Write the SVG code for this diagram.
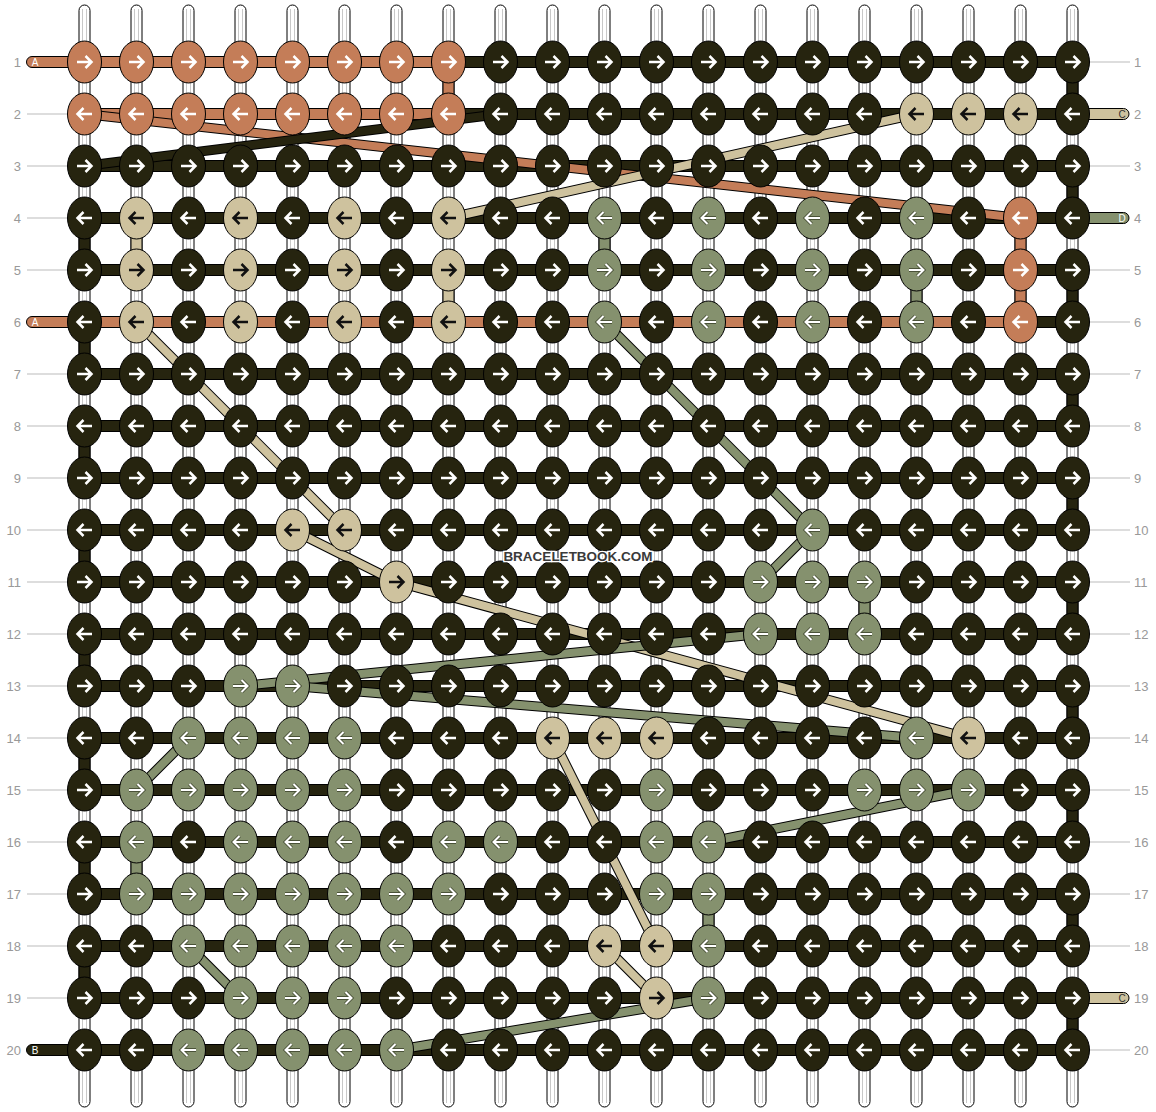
<svg xmlns="http://www.w3.org/2000/svg" width="1156" height="1112" viewBox="0 0 1156 1112">
<style>
text{font-family:"Liberation Sans",Arial,sans-serif}
.num{font-size:13px;fill:#999}
.tk{stroke:#bbb;stroke-width:1}
.bar{stroke:#000;stroke-width:1}
.o{fill:#c47d58}.t{fill:#cec29e}.g{fill:#85916e}.d{fill:#26240f}
.lb{stroke:#000;stroke-width:10}
.lo{stroke:#c47d58;stroke-width:8}
.lt{stroke:#cec29e;stroke-width:8}
.lg{stroke:#85916e;stroke-width:8}
.ld{stroke:#26240f;stroke-width:8}
.tag{font-size:10px;text-anchor:middle}
.wm{font-size:13.5px;font-weight:bold;fill:#3a3a3a;stroke:#fff;stroke-width:2.5;paint-order:stroke;text-anchor:middle}
</style>
<defs>
<g id="vs"><rect x="-5.5" y="5" width="11" height="1102" rx="5.5" fill="#fff" stroke="#000"/><path d="M-2,9V1103M2,9V1103" stroke="#c8c8c8"/></g>
<path id="a" d="M-7.5,0H6M1,-6L7,0L1,6" fill="none"/>
<g id="OR"><ellipse rx="17" ry="21" fill="#c47d58" stroke="#000"/><use href="#a" stroke="#fff" stroke-width="2.5"/></g>
<g id="OL"><ellipse rx="17" ry="21" fill="#c47d58" stroke="#000"/><use href="#a" stroke="#fff" stroke-width="2.5" transform="scale(-1 1)"/></g>
<g id="DR"><ellipse rx="17" ry="21" fill="#26240f" stroke="#000"/><use href="#a" stroke="#fff" stroke-width="2.5"/></g>
<g id="DL"><ellipse rx="17" ry="21" fill="#26240f" stroke="#000"/><use href="#a" stroke="#fff" stroke-width="2.5" transform="scale(-1 1)"/></g>
<g id="TR"><ellipse rx="17" ry="21" fill="#cec29e" stroke="#000"/><use href="#a" stroke="#111" stroke-width="2.5"/></g>
<g id="TL"><ellipse rx="17" ry="21" fill="#cec29e" stroke="#000"/><use href="#a" stroke="#111" stroke-width="2.5" transform="scale(-1 1)"/></g>
<g id="GR"><ellipse rx="17" ry="21" fill="#85916e" stroke="#000"/><use href="#a" stroke="#4a5238" stroke-width="3.8"/><use href="#a" stroke="#fff" stroke-width="2"/></g>
<g id="GL"><ellipse rx="17" ry="21" fill="#85916e" stroke="#000"/><g transform="scale(-1 1)"><use href="#a" stroke="#4a5238" stroke-width="3.8"/><use href="#a" stroke="#fff" stroke-width="2"/></g></g>
</defs>
<rect width="1156" height="1112" fill="#fff"/>
<g id="labels">
<g class="tk">
<path d="M27,114H67M27,166H67M27,218H67M27,270H67M27,374H67M27,426H67M27,478H67M27,530H67M27,582H67M27,634H67M27,686H67M27,738H67M27,790H67M27,842H67M27,894H67M27,946H67M27,998H67"/>
<path d="M1090,62H1130M1090,166H1130M1090,270H1130M1090,322H1130M1090,374H1130M1090,426H1130M1090,478H1130M1090,530H1130M1090,582H1130M1090,634H1130M1090,686H1130M1090,738H1130M1090,790H1130M1090,842H1130M1090,894H1130M1090,946H1130M1090,1050H1130"/>
</g>
<g class="num" text-anchor="end">
<text x="21" y="66.5">1</text><text x="21" y="118.5">2</text><text x="21" y="170.5">3</text><text x="21" y="222.5">4</text><text x="21" y="274.5">5</text><text x="21" y="326.5">6</text><text x="21" y="378.5">7</text><text x="21" y="430.5">8</text><text x="21" y="482.5">9</text><text x="21" y="534.5">10</text><text x="21" y="586.5">11</text><text x="21" y="638.5">12</text><text x="21" y="690.5">13</text><text x="21" y="742.5">14</text><text x="21" y="794.5">15</text><text x="21" y="846.5">16</text><text x="21" y="898.5">17</text><text x="21" y="950.5">18</text><text x="21" y="1002.5">19</text><text x="21" y="1054.5">20</text>
</g>
<g class="num">
<text x="1134" y="66.5">1</text><text x="1134" y="118.5">2</text><text x="1134" y="170.5">3</text><text x="1134" y="222.5">4</text><text x="1134" y="274.5">5</text><text x="1134" y="326.5">6</text><text x="1134" y="378.5">7</text><text x="1134" y="430.5">8</text><text x="1134" y="482.5">9</text><text x="1134" y="534.5">10</text><text x="1134" y="586.5">11</text><text x="1134" y="638.5">12</text><text x="1134" y="690.5">13</text><text x="1134" y="742.5">14</text><text x="1134" y="794.5">15</text><text x="1134" y="846.5">16</text><text x="1134" y="898.5">17</text><text x="1134" y="950.5">18</text><text x="1134" y="1002.5">19</text><text x="1134" y="1054.5">20</text>
</g>
</g>
<g id="grid" transform="translate(-0.5 0)">
<g id="strings">
<use href="#vs" x="85"/><use href="#vs" x="137"/><use href="#vs" x="189"/><use href="#vs" x="241"/><use href="#vs" x="293"/><use href="#vs" x="345"/><use href="#vs" x="397"/><use href="#vs" x="449"/><use href="#vs" x="501"/><use href="#vs" x="553"/><use href="#vs" x="605"/><use href="#vs" x="657"/><use href="#vs" x="709"/><use href="#vs" x="761"/><use href="#vs" x="813"/><use href="#vs" x="865"/><use href="#vs" x="917"/><use href="#vs" x="969"/><use href="#vs" x="1021"/><use href="#vs" x="1073"/>
</g>
<g id="connectors">
<g id="links" class="bar">
<rect class="o" x="443.5" y="77" width="11" height="22"/>
<rect class="d" x="1067.5" y="77" width="11" height="22"/>
<rect class="d" x="1067.5" y="181" width="11" height="22"/>
<rect class="d" x="79.5" y="233" width="11" height="22"/>
<rect class="t" x="131.5" y="233" width="11" height="22"/>
<rect class="g" x="599.5" y="233" width="11" height="22"/>
<rect class="o" x="1015.5" y="233" width="11" height="22"/>
<rect class="t" x="443.5" y="285" width="11" height="22"/>
<rect class="g" x="911.5" y="285" width="11" height="22"/>
<rect class="o" x="1015.5" y="285" width="11" height="22"/>
<rect class="d" x="1067.5" y="285" width="11" height="22"/>
<rect class="d" x="79.5" y="337" width="11" height="22"/>
<rect class="d" x="1067.5" y="389" width="11" height="22"/>
<rect class="d" x="79.5" y="441" width="11" height="22"/>
<rect class="d" x="1067.5" y="493" width="11" height="22"/>
<rect class="d" x="79.5" y="545" width="11" height="22"/>
<rect class="g" x="859.5" y="597" width="11" height="22"/>
<rect class="d" x="1067.5" y="597" width="11" height="22"/>
<rect class="d" x="79.5" y="649" width="11" height="22"/>
<rect class="d" x="1067.5" y="701" width="11" height="22"/>
<rect class="d" x="79.5" y="753" width="11" height="22"/>
<rect class="d" x="1067.5" y="805" width="11" height="22"/>
<rect class="d" x="79.5" y="857" width="11" height="22"/>
<rect class="g" x="131.5" y="857" width="11" height="22"/>
<rect class="g" x="703.5" y="909" width="11" height="22"/>
<rect class="d" x="1067.5" y="909" width="11" height="22"/>
<rect class="d" x="79.5" y="961" width="11" height="22"/>
<rect class="d" x="1067.5" y="1013" width="11" height="22"/>
</g>
<g id="rows" class="bar">
<path class="o" d="M85,56.5H32.5A5.5,5.5 0 0 0 32.5,67.5H85Z"/>
<rect class="o" x="85" y="56.5" width="364" height="11"/><rect class="d" x="449" y="56.5" width="624" height="11"/>
<rect class="o" x="85" y="108.5" width="364" height="11"/><rect class="d" x="449" y="108.5" width="624" height="11"/>
<path class="t" d="M1073,108.5H1124A5.5,5.5 0 0 1 1124,119.5H1073Z"/>
<rect class="d" x="85" y="160.5" width="988" height="11"/>
<rect class="d" x="85" y="212.5" width="988" height="11"/>
<path class="g" d="M1073,212.5H1124A5.5,5.5 0 0 1 1124,223.5H1073Z"/>
<rect class="d" x="85" y="264.5" width="988" height="11"/>
<path class="o" d="M85,316.5H32.5A5.5,5.5 0 0 0 32.5,327.5H85Z"/>
<rect class="o" x="85" y="316.5" width="936" height="11"/><rect class="d" x="1021" y="316.5" width="52" height="11"/>
<rect class="d" x="85" y="368.5" width="988" height="11"/>
<rect class="d" x="85" y="420.5" width="988" height="11"/>
<rect class="d" x="85" y="472.5" width="988" height="11"/>
<rect class="d" x="85" y="524.5" width="988" height="11"/>
<rect class="d" x="85" y="576.5" width="988" height="11"/>
<rect class="d" x="85" y="628.5" width="988" height="11"/>
<rect class="d" x="85" y="680.5" width="988" height="11"/>
<rect class="d" x="85" y="732.5" width="988" height="11"/>
<rect class="d" x="85" y="784.5" width="988" height="11"/>
<rect class="d" x="85" y="836.5" width="988" height="11"/>
<rect class="d" x="85" y="888.5" width="988" height="11"/>
<rect class="d" x="85" y="940.5" width="988" height="11"/>
<rect class="d" x="85" y="992.5" width="988" height="11"/>
<path class="t" d="M1073,992.5H1124A5.5,5.5 0 0 1 1124,1003.5H1073Z"/>
<rect class="d" x="85" y="1044.5" width="988" height="11"/>
<path class="d" d="M85,1044.5H32.5A5.5,5.5 0 0 0 32.5,1055.5H85Z"/>
</g>
<g id="diagonals">
<line class="lb" x1="85" y1="114" x2="1021" y2="218"/><line class="lo" x1="85" y1="114" x2="1021" y2="218"/>
<line class="lb" x1="85" y1="166" x2="501" y2="114"/><line class="ld" x1="85" y1="166" x2="501" y2="114"/>
<line class="lb" x1="449" y1="218" x2="917" y2="114"/><line class="lt" x1="449" y1="218" x2="917" y2="114"/>
<line class="lb" x1="137" y1="322" x2="345" y2="530"/><line class="lt" x1="137" y1="322" x2="345" y2="530"/>
<line class="lb" x1="293" y1="530" x2="397" y2="582"/><line class="lt" x1="293" y1="530" x2="397" y2="582"/>
<line class="lb" x1="397" y1="582" x2="969" y2="738"/><line class="lt" x1="397" y1="582" x2="969" y2="738"/>
<line class="lb" x1="553" y1="738" x2="657" y2="946"/><line class="lt" x1="553" y1="738" x2="657" y2="946"/>
<line class="lb" x1="605" y1="946" x2="657" y2="998"/><line class="lt" x1="605" y1="946" x2="657" y2="998"/>
<line class="lb" x1="605" y1="322" x2="813" y2="530"/><line class="lg" x1="605" y1="322" x2="813" y2="530"/>
<line class="lb" x1="813" y1="530" x2="761" y2="582"/><line class="lg" x1="813" y1="530" x2="761" y2="582"/>
<line class="lb" x1="241" y1="686" x2="761" y2="634"/><line class="lg" x1="241" y1="686" x2="761" y2="634"/>
<line class="lb" x1="293" y1="686" x2="917" y2="738"/><line class="lg" x1="293" y1="686" x2="917" y2="738"/>
<line class="lb" x1="189" y1="738" x2="137" y2="790"/><line class="lg" x1="189" y1="738" x2="137" y2="790"/>
<line class="lb" x1="709" y1="842" x2="969" y2="790"/><line class="lg" x1="709" y1="842" x2="969" y2="790"/>
<line class="lb" x1="189" y1="946" x2="241" y2="998"/><line class="lg" x1="189" y1="946" x2="241" y2="998"/>
<line class="lb" x1="397" y1="1050" x2="709" y2="998"/><line class="lg" x1="397" y1="1050" x2="709" y2="998"/>
</g>
<g id="tags" class="tag">
<text x="35.5" y="65.5" fill="#fff">A</text>
<text x="35.5" y="325.5" fill="#fff">A</text>
<text x="35.5" y="1053.5" fill="#fff">B</text>
<text x="1122.5" y="117.5" fill="#333">C</text>
<text x="1122.5" y="221.5" fill="#fff">D</text>
<text x="1122.5" y="1001.5" fill="#333">C</text>
</g>
</g>
<g id="knots">
<g id="row1" transform="translate(0 62)">
<g id="k1-1"><use href="#OR" x="85"/></g><g id="k1-2"><use href="#OR" x="137"/></g><g id="k1-3"><use href="#OR" x="189"/></g><g id="k1-4"><use href="#OR" x="241"/></g><g id="k1-5"><use href="#OR" x="293"/></g><g id="k1-6"><use href="#OR" x="345"/></g><g id="k1-7"><use href="#OR" x="397"/></g><g id="k1-8"><use href="#OR" x="449"/></g><g id="k1-9"><use href="#DR" x="501"/></g><g id="k1-10"><use href="#DR" x="553"/></g><g id="k1-11"><use href="#DR" x="605"/></g><g id="k1-12"><use href="#DR" x="657"/></g><g id="k1-13"><use href="#DR" x="709"/></g><g id="k1-14"><use href="#DR" x="761"/></g><g id="k1-15"><use href="#DR" x="813"/></g><g id="k1-16"><use href="#DR" x="865"/></g><g id="k1-17"><use href="#DR" x="917"/></g><g id="k1-18"><use href="#DR" x="969"/></g><g id="k1-19"><use href="#DR" x="1021"/></g><g id="k1-20"><use href="#DR" x="1073"/></g>
</g>
<g id="row2" transform="translate(0 114)">
<g id="k2-1"><use href="#OL" x="85"/></g><g id="k2-2"><use href="#OL" x="137"/></g><g id="k2-3"><use href="#OL" x="189"/></g><g id="k2-4"><use href="#OL" x="241"/></g><g id="k2-5"><use href="#OL" x="293"/></g><g id="k2-6"><use href="#OL" x="345"/></g><g id="k2-7"><use href="#OL" x="397"/></g><g id="k2-8"><use href="#OL" x="449"/></g><g id="k2-9"><use href="#DL" x="501"/></g><g id="k2-10"><use href="#DL" x="553"/></g><g id="k2-11"><use href="#DL" x="605"/></g><g id="k2-12"><use href="#DL" x="657"/></g><g id="k2-13"><use href="#DL" x="709"/></g><g id="k2-14"><use href="#DL" x="761"/></g><g id="k2-15"><use href="#DL" x="813"/></g><g id="k2-16"><use href="#DL" x="865"/></g><g id="k2-17"><use href="#TL" x="917"/></g><g id="k2-18"><use href="#TL" x="969"/></g><g id="k2-19"><use href="#TL" x="1021"/></g><g id="k2-20"><use href="#DL" x="1073"/></g>
</g>
<g id="row3" transform="translate(0 166)">
<g id="k3-1"><use href="#DR" x="85"/></g><g id="k3-2"><use href="#DR" x="137"/></g><g id="k3-3"><use href="#DR" x="189"/></g><g id="k3-4"><use href="#DR" x="241"/></g><g id="k3-5"><use href="#DR" x="293"/></g><g id="k3-6"><use href="#DR" x="345"/></g><g id="k3-7"><use href="#DR" x="397"/></g><g id="k3-8"><use href="#DR" x="449"/></g><g id="k3-9"><use href="#DR" x="501"/></g><g id="k3-10"><use href="#DR" x="553"/></g><g id="k3-11"><use href="#DR" x="605"/></g><g id="k3-12"><use href="#DR" x="657"/></g><g id="k3-13"><use href="#DR" x="709"/></g><g id="k3-14"><use href="#DR" x="761"/></g><g id="k3-15"><use href="#DR" x="813"/></g><g id="k3-16"><use href="#DR" x="865"/></g><g id="k3-17"><use href="#DR" x="917"/></g><g id="k3-18"><use href="#DR" x="969"/></g><g id="k3-19"><use href="#DR" x="1021"/></g><g id="k3-20"><use href="#DR" x="1073"/></g>
</g>
<g id="row4" transform="translate(0 218)">
<g id="k4-1"><use href="#DL" x="85"/></g><g id="k4-2"><use href="#TL" x="137"/></g><g id="k4-3"><use href="#DL" x="189"/></g><g id="k4-4"><use href="#TL" x="241"/></g><g id="k4-5"><use href="#DL" x="293"/></g><g id="k4-6"><use href="#TL" x="345"/></g><g id="k4-7"><use href="#DL" x="397"/></g><g id="k4-8"><use href="#TL" x="449"/></g><g id="k4-9"><use href="#DL" x="501"/></g><g id="k4-10"><use href="#DL" x="553"/></g><g id="k4-11"><use href="#GL" x="605"/></g><g id="k4-12"><use href="#DL" x="657"/></g><g id="k4-13"><use href="#GL" x="709"/></g><g id="k4-14"><use href="#DL" x="761"/></g><g id="k4-15"><use href="#GL" x="813"/></g><g id="k4-16"><use href="#DL" x="865"/></g><g id="k4-17"><use href="#GL" x="917"/></g><g id="k4-18"><use href="#DL" x="969"/></g><g id="k4-19"><use href="#OL" x="1021"/></g><g id="k4-20"><use href="#DL" x="1073"/></g>
</g>
<g id="row5" transform="translate(0 270)">
<g id="k5-1"><use href="#DR" x="85"/></g><g id="k5-2"><use href="#TR" x="137"/></g><g id="k5-3"><use href="#DR" x="189"/></g><g id="k5-4"><use href="#TR" x="241"/></g><g id="k5-5"><use href="#DR" x="293"/></g><g id="k5-6"><use href="#TR" x="345"/></g><g id="k5-7"><use href="#DR" x="397"/></g><g id="k5-8"><use href="#TR" x="449"/></g><g id="k5-9"><use href="#DR" x="501"/></g><g id="k5-10"><use href="#DR" x="553"/></g><g id="k5-11"><use href="#GR" x="605"/></g><g id="k5-12"><use href="#DR" x="657"/></g><g id="k5-13"><use href="#GR" x="709"/></g><g id="k5-14"><use href="#DR" x="761"/></g><g id="k5-15"><use href="#GR" x="813"/></g><g id="k5-16"><use href="#DR" x="865"/></g><g id="k5-17"><use href="#GR" x="917"/></g><g id="k5-18"><use href="#DR" x="969"/></g><g id="k5-19"><use href="#OR" x="1021"/></g><g id="k5-20"><use href="#DR" x="1073"/></g>
</g>
<g id="row6" transform="translate(0 322)">
<g id="k6-1"><use href="#DL" x="85"/></g><g id="k6-2"><use href="#TL" x="137"/></g><g id="k6-3"><use href="#DL" x="189"/></g><g id="k6-4"><use href="#TL" x="241"/></g><g id="k6-5"><use href="#DL" x="293"/></g><g id="k6-6"><use href="#TL" x="345"/></g><g id="k6-7"><use href="#DL" x="397"/></g><g id="k6-8"><use href="#TL" x="449"/></g><g id="k6-9"><use href="#DL" x="501"/></g><g id="k6-10"><use href="#DL" x="553"/></g><g id="k6-11"><use href="#GL" x="605"/></g><g id="k6-12"><use href="#DL" x="657"/></g><g id="k6-13"><use href="#GL" x="709"/></g><g id="k6-14"><use href="#DL" x="761"/></g><g id="k6-15"><use href="#GL" x="813"/></g><g id="k6-16"><use href="#DL" x="865"/></g><g id="k6-17"><use href="#GL" x="917"/></g><g id="k6-18"><use href="#DL" x="969"/></g><g id="k6-19"><use href="#OL" x="1021"/></g><g id="k6-20"><use href="#DL" x="1073"/></g>
</g>
<g id="row7" transform="translate(0 374)">
<g id="k7-1"><use href="#DR" x="85"/></g><g id="k7-2"><use href="#DR" x="137"/></g><g id="k7-3"><use href="#DR" x="189"/></g><g id="k7-4"><use href="#DR" x="241"/></g><g id="k7-5"><use href="#DR" x="293"/></g><g id="k7-6"><use href="#DR" x="345"/></g><g id="k7-7"><use href="#DR" x="397"/></g><g id="k7-8"><use href="#DR" x="449"/></g><g id="k7-9"><use href="#DR" x="501"/></g><g id="k7-10"><use href="#DR" x="553"/></g><g id="k7-11"><use href="#DR" x="605"/></g><g id="k7-12"><use href="#DR" x="657"/></g><g id="k7-13"><use href="#DR" x="709"/></g><g id="k7-14"><use href="#DR" x="761"/></g><g id="k7-15"><use href="#DR" x="813"/></g><g id="k7-16"><use href="#DR" x="865"/></g><g id="k7-17"><use href="#DR" x="917"/></g><g id="k7-18"><use href="#DR" x="969"/></g><g id="k7-19"><use href="#DR" x="1021"/></g><g id="k7-20"><use href="#DR" x="1073"/></g>
</g>
<g id="row8" transform="translate(0 426)">
<g id="k8-1"><use href="#DL" x="85"/></g><g id="k8-2"><use href="#DL" x="137"/></g><g id="k8-3"><use href="#DL" x="189"/></g><g id="k8-4"><use href="#DL" x="241"/></g><g id="k8-5"><use href="#DL" x="293"/></g><g id="k8-6"><use href="#DL" x="345"/></g><g id="k8-7"><use href="#DL" x="397"/></g><g id="k8-8"><use href="#DL" x="449"/></g><g id="k8-9"><use href="#DL" x="501"/></g><g id="k8-10"><use href="#DL" x="553"/></g><g id="k8-11"><use href="#DL" x="605"/></g><g id="k8-12"><use href="#DL" x="657"/></g><g id="k8-13"><use href="#DL" x="709"/></g><g id="k8-14"><use href="#DL" x="761"/></g><g id="k8-15"><use href="#DL" x="813"/></g><g id="k8-16"><use href="#DL" x="865"/></g><g id="k8-17"><use href="#DL" x="917"/></g><g id="k8-18"><use href="#DL" x="969"/></g><g id="k8-19"><use href="#DL" x="1021"/></g><g id="k8-20"><use href="#DL" x="1073"/></g>
</g>
<g id="row9" transform="translate(0 478)">
<g id="k9-1"><use href="#DR" x="85"/></g><g id="k9-2"><use href="#DR" x="137"/></g><g id="k9-3"><use href="#DR" x="189"/></g><g id="k9-4"><use href="#DR" x="241"/></g><g id="k9-5"><use href="#DR" x="293"/></g><g id="k9-6"><use href="#DR" x="345"/></g><g id="k9-7"><use href="#DR" x="397"/></g><g id="k9-8"><use href="#DR" x="449"/></g><g id="k9-9"><use href="#DR" x="501"/></g><g id="k9-10"><use href="#DR" x="553"/></g><g id="k9-11"><use href="#DR" x="605"/></g><g id="k9-12"><use href="#DR" x="657"/></g><g id="k9-13"><use href="#DR" x="709"/></g><g id="k9-14"><use href="#DR" x="761"/></g><g id="k9-15"><use href="#DR" x="813"/></g><g id="k9-16"><use href="#DR" x="865"/></g><g id="k9-17"><use href="#DR" x="917"/></g><g id="k9-18"><use href="#DR" x="969"/></g><g id="k9-19"><use href="#DR" x="1021"/></g><g id="k9-20"><use href="#DR" x="1073"/></g>
</g>
<g id="row10" transform="translate(0 530)">
<g id="k10-1"><use href="#DL" x="85"/></g><g id="k10-2"><use href="#DL" x="137"/></g><g id="k10-3"><use href="#DL" x="189"/></g><g id="k10-4"><use href="#DL" x="241"/></g><g id="k10-5"><use href="#TL" x="293"/></g><g id="k10-6"><use href="#TL" x="345"/></g><g id="k10-7"><use href="#DL" x="397"/></g><g id="k10-8"><use href="#DL" x="449"/></g><g id="k10-9"><use href="#DL" x="501"/></g><g id="k10-10"><use href="#DL" x="553"/></g><g id="k10-11"><use href="#DL" x="605"/></g><g id="k10-12"><use href="#DL" x="657"/></g><g id="k10-13"><use href="#DL" x="709"/></g><g id="k10-14"><use href="#DL" x="761"/></g><g id="k10-15"><use href="#GL" x="813"/></g><g id="k10-16"><use href="#DL" x="865"/></g><g id="k10-17"><use href="#DL" x="917"/></g><g id="k10-18"><use href="#DL" x="969"/></g><g id="k10-19"><use href="#DL" x="1021"/></g><g id="k10-20"><use href="#DL" x="1073"/></g>
</g>
<g id="row11" transform="translate(0 582)">
<g id="k11-1"><use href="#DR" x="85"/></g><g id="k11-2"><use href="#DR" x="137"/></g><g id="k11-3"><use href="#DR" x="189"/></g><g id="k11-4"><use href="#DR" x="241"/></g><g id="k11-5"><use href="#DR" x="293"/></g><g id="k11-6"><use href="#DR" x="345"/></g><g id="k11-7"><use href="#TR" x="397"/></g><g id="k11-8"><use href="#DR" x="449"/></g><g id="k11-9"><use href="#DR" x="501"/></g><g id="k11-10"><use href="#DR" x="553"/></g><g id="k11-11"><use href="#DR" x="605"/></g><g id="k11-12"><use href="#DR" x="657"/></g><g id="k11-13"><use href="#DR" x="709"/></g><g id="k11-14"><use href="#GR" x="761"/></g><g id="k11-15"><use href="#GR" x="813"/></g><g id="k11-16"><use href="#GR" x="865"/></g><g id="k11-17"><use href="#DR" x="917"/></g><g id="k11-18"><use href="#DR" x="969"/></g><g id="k11-19"><use href="#DR" x="1021"/></g><g id="k11-20"><use href="#DR" x="1073"/></g>
</g>
<g id="row12" transform="translate(0 634)">
<g id="k12-1"><use href="#DL" x="85"/></g><g id="k12-2"><use href="#DL" x="137"/></g><g id="k12-3"><use href="#DL" x="189"/></g><g id="k12-4"><use href="#DL" x="241"/></g><g id="k12-5"><use href="#DL" x="293"/></g><g id="k12-6"><use href="#DL" x="345"/></g><g id="k12-7"><use href="#DL" x="397"/></g><g id="k12-8"><use href="#DL" x="449"/></g><g id="k12-9"><use href="#DL" x="501"/></g><g id="k12-10"><use href="#DL" x="553"/></g><g id="k12-11"><use href="#DL" x="605"/></g><g id="k12-12"><use href="#DL" x="657"/></g><g id="k12-13"><use href="#DL" x="709"/></g><g id="k12-14"><use href="#GL" x="761"/></g><g id="k12-15"><use href="#GL" x="813"/></g><g id="k12-16"><use href="#GL" x="865"/></g><g id="k12-17"><use href="#DL" x="917"/></g><g id="k12-18"><use href="#DL" x="969"/></g><g id="k12-19"><use href="#DL" x="1021"/></g><g id="k12-20"><use href="#DL" x="1073"/></g>
</g>
<g id="row13" transform="translate(0 686)">
<g id="k13-1"><use href="#DR" x="85"/></g><g id="k13-2"><use href="#DR" x="137"/></g><g id="k13-3"><use href="#DR" x="189"/></g><g id="k13-4"><use href="#GR" x="241"/></g><g id="k13-5"><use href="#GR" x="293"/></g><g id="k13-6"><use href="#DR" x="345"/></g><g id="k13-7"><use href="#DR" x="397"/></g><g id="k13-8"><use href="#DR" x="449"/></g><g id="k13-9"><use href="#DR" x="501"/></g><g id="k13-10"><use href="#DR" x="553"/></g><g id="k13-11"><use href="#DR" x="605"/></g><g id="k13-12"><use href="#DR" x="657"/></g><g id="k13-13"><use href="#DR" x="709"/></g><g id="k13-14"><use href="#DR" x="761"/></g><g id="k13-15"><use href="#DR" x="813"/></g><g id="k13-16"><use href="#DR" x="865"/></g><g id="k13-17"><use href="#DR" x="917"/></g><g id="k13-18"><use href="#DR" x="969"/></g><g id="k13-19"><use href="#DR" x="1021"/></g><g id="k13-20"><use href="#DR" x="1073"/></g>
</g>
<g id="row14" transform="translate(0 738)">
<g id="k14-1"><use href="#DL" x="85"/></g><g id="k14-2"><use href="#DL" x="137"/></g><g id="k14-3"><use href="#GL" x="189"/></g><g id="k14-4"><use href="#GL" x="241"/></g><g id="k14-5"><use href="#GL" x="293"/></g><g id="k14-6"><use href="#GL" x="345"/></g><g id="k14-7"><use href="#DL" x="397"/></g><g id="k14-8"><use href="#DL" x="449"/></g><g id="k14-9"><use href="#DL" x="501"/></g><g id="k14-10"><use href="#TL" x="553"/></g><g id="k14-11"><use href="#TL" x="605"/></g><g id="k14-12"><use href="#TL" x="657"/></g><g id="k14-13"><use href="#DL" x="709"/></g><g id="k14-14"><use href="#DL" x="761"/></g><g id="k14-15"><use href="#DL" x="813"/></g><g id="k14-16"><use href="#DL" x="865"/></g><g id="k14-17"><use href="#GL" x="917"/></g><g id="k14-18"><use href="#TL" x="969"/></g><g id="k14-19"><use href="#DL" x="1021"/></g><g id="k14-20"><use href="#DL" x="1073"/></g>
</g>
<g id="row15" transform="translate(0 790)">
<g id="k15-1"><use href="#DR" x="85"/></g><g id="k15-2"><use href="#GR" x="137"/></g><g id="k15-3"><use href="#GR" x="189"/></g><g id="k15-4"><use href="#GR" x="241"/></g><g id="k15-5"><use href="#GR" x="293"/></g><g id="k15-6"><use href="#GR" x="345"/></g><g id="k15-7"><use href="#DR" x="397"/></g><g id="k15-8"><use href="#DR" x="449"/></g><g id="k15-9"><use href="#DR" x="501"/></g><g id="k15-10"><use href="#DR" x="553"/></g><g id="k15-11"><use href="#DR" x="605"/></g><g id="k15-12"><use href="#GR" x="657"/></g><g id="k15-13"><use href="#DR" x="709"/></g><g id="k15-14"><use href="#DR" x="761"/></g><g id="k15-15"><use href="#DR" x="813"/></g><g id="k15-16"><use href="#GR" x="865"/></g><g id="k15-17"><use href="#GR" x="917"/></g><g id="k15-18"><use href="#GR" x="969"/></g><g id="k15-19"><use href="#DR" x="1021"/></g><g id="k15-20"><use href="#DR" x="1073"/></g>
</g>
<g id="row16" transform="translate(0 842)">
<g id="k16-1"><use href="#DL" x="85"/></g><g id="k16-2"><use href="#GL" x="137"/></g><g id="k16-3"><use href="#DL" x="189"/></g><g id="k16-4"><use href="#GL" x="241"/></g><g id="k16-5"><use href="#GL" x="293"/></g><g id="k16-6"><use href="#GL" x="345"/></g><g id="k16-7"><use href="#DL" x="397"/></g><g id="k16-8"><use href="#GL" x="449"/></g><g id="k16-9"><use href="#GL" x="501"/></g><g id="k16-10"><use href="#DL" x="553"/></g><g id="k16-11"><use href="#DL" x="605"/></g><g id="k16-12"><use href="#GL" x="657"/></g><g id="k16-13"><use href="#GL" x="709"/></g><g id="k16-14"><use href="#DL" x="761"/></g><g id="k16-15"><use href="#DL" x="813"/></g><g id="k16-16"><use href="#DL" x="865"/></g><g id="k16-17"><use href="#DL" x="917"/></g><g id="k16-18"><use href="#DL" x="969"/></g><g id="k16-19"><use href="#DL" x="1021"/></g><g id="k16-20"><use href="#DL" x="1073"/></g>
</g>
<g id="row17" transform="translate(0 894)">
<g id="k17-1"><use href="#DR" x="85"/></g><g id="k17-2"><use href="#GR" x="137"/></g><g id="k17-3"><use href="#GR" x="189"/></g><g id="k17-4"><use href="#GR" x="241"/></g><g id="k17-5"><use href="#GR" x="293"/></g><g id="k17-6"><use href="#GR" x="345"/></g><g id="k17-7"><use href="#GR" x="397"/></g><g id="k17-8"><use href="#GR" x="449"/></g><g id="k17-9"><use href="#DR" x="501"/></g><g id="k17-10"><use href="#DR" x="553"/></g><g id="k17-11"><use href="#DR" x="605"/></g><g id="k17-12"><use href="#GR" x="657"/></g><g id="k17-13"><use href="#GR" x="709"/></g><g id="k17-14"><use href="#DR" x="761"/></g><g id="k17-15"><use href="#DR" x="813"/></g><g id="k17-16"><use href="#DR" x="865"/></g><g id="k17-17"><use href="#DR" x="917"/></g><g id="k17-18"><use href="#DR" x="969"/></g><g id="k17-19"><use href="#DR" x="1021"/></g><g id="k17-20"><use href="#DR" x="1073"/></g>
</g>
<g id="row18" transform="translate(0 946)">
<g id="k18-1"><use href="#DL" x="85"/></g><g id="k18-2"><use href="#DL" x="137"/></g><g id="k18-3"><use href="#GL" x="189"/></g><g id="k18-4"><use href="#GL" x="241"/></g><g id="k18-5"><use href="#GL" x="293"/></g><g id="k18-6"><use href="#GL" x="345"/></g><g id="k18-7"><use href="#GL" x="397"/></g><g id="k18-8"><use href="#DL" x="449"/></g><g id="k18-9"><use href="#DL" x="501"/></g><g id="k18-10"><use href="#DL" x="553"/></g><g id="k18-11"><use href="#TL" x="605"/></g><g id="k18-12"><use href="#TL" x="657"/></g><g id="k18-13"><use href="#GL" x="709"/></g><g id="k18-14"><use href="#DL" x="761"/></g><g id="k18-15"><use href="#DL" x="813"/></g><g id="k18-16"><use href="#DL" x="865"/></g><g id="k18-17"><use href="#DL" x="917"/></g><g id="k18-18"><use href="#DL" x="969"/></g><g id="k18-19"><use href="#DL" x="1021"/></g><g id="k18-20"><use href="#DL" x="1073"/></g>
</g>
<g id="row19" transform="translate(0 998)">
<g id="k19-1"><use href="#DR" x="85"/></g><g id="k19-2"><use href="#DR" x="137"/></g><g id="k19-3"><use href="#DR" x="189"/></g><g id="k19-4"><use href="#GR" x="241"/></g><g id="k19-5"><use href="#GR" x="293"/></g><g id="k19-6"><use href="#GR" x="345"/></g><g id="k19-7"><use href="#DR" x="397"/></g><g id="k19-8"><use href="#DR" x="449"/></g><g id="k19-9"><use href="#DR" x="501"/></g><g id="k19-10"><use href="#DR" x="553"/></g><g id="k19-11"><use href="#DR" x="605"/></g><g id="k19-12"><use href="#TR" x="657"/></g><g id="k19-13"><use href="#GR" x="709"/></g><g id="k19-14"><use href="#DR" x="761"/></g><g id="k19-15"><use href="#DR" x="813"/></g><g id="k19-16"><use href="#DR" x="865"/></g><g id="k19-17"><use href="#DR" x="917"/></g><g id="k19-18"><use href="#DR" x="969"/></g><g id="k19-19"><use href="#DR" x="1021"/></g><g id="k19-20"><use href="#DR" x="1073"/></g>
</g>
<g id="row20" transform="translate(0 1050)">
<g id="k20-1"><use href="#DL" x="85"/></g><g id="k20-2"><use href="#DL" x="137"/></g><g id="k20-3"><use href="#GL" x="189"/></g><g id="k20-4"><use href="#GL" x="241"/></g><g id="k20-5"><use href="#GL" x="293"/></g><g id="k20-6"><use href="#GL" x="345"/></g><g id="k20-7"><use href="#GL" x="397"/></g><g id="k20-8"><use href="#DL" x="449"/></g><g id="k20-9"><use href="#DL" x="501"/></g><g id="k20-10"><use href="#DL" x="553"/></g><g id="k20-11"><use href="#DL" x="605"/></g><g id="k20-12"><use href="#DL" x="657"/></g><g id="k20-13"><use href="#DL" x="709"/></g><g id="k20-14"><use href="#DL" x="761"/></g><g id="k20-15"><use href="#DL" x="813"/></g><g id="k20-16"><use href="#DL" x="865"/></g><g id="k20-17"><use href="#DL" x="917"/></g><g id="k20-18"><use href="#DL" x="969"/></g><g id="k20-19"><use href="#DL" x="1021"/></g><g id="k20-20"><use href="#DL" x="1073"/></g>
</g>
</g>
</g>
<text class="wm" x="578" y="561">BRACELETBOOK.COM</text>
</svg>
